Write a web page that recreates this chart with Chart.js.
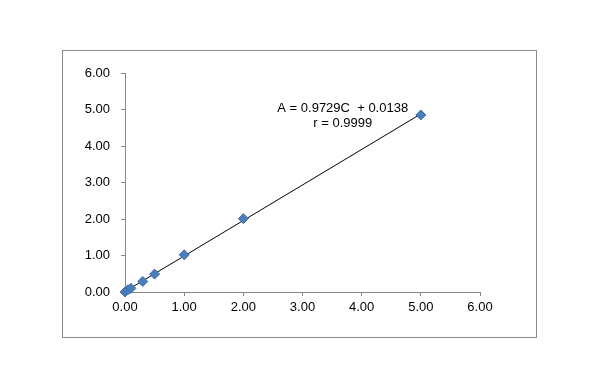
<!DOCTYPE html>
<html>
<head>
<meta charset="utf-8">
<script src="https://cdn.jsdelivr.net/npm/chart.js@4/dist/chart.umd.min.js"></script>
<style>
	html, body { margin: 0; padding: 0; background: #fff; }
	#wrap { position: absolute; left: 0; top: 0; width: 597px; height: 376px; }
</style>
</head>
<body>
<div id="wrap"><canvas id="calib" width="597" height="376"></canvas></div>
<script>
// standard points (C, A)
const concs = [0, 0.05, 0.1, 0.3, 0.5, 1, 2, 5];
const absorb = [0, 0.06, 0.1, 0.29, 0.49, 1.02, 2.01, 4.85];
// fitted line ends
const fitX = [0, 5];
const fitY = [0.0138, 4.8783];
const tickVals = [0, 1, 2, 3, 4, 5, 6];
const eqLines = ['A = 0.9729C  + 0.0138', 'r = 0.9999'];

const axisGray = '#868686';
const fontFam = '"Liberation Sans", Arial, sans-serif';

// outer frame + equation text
const framePlugin = {
	id: 'frame',
	beforeDraw: function(chart){
		const ctx = chart.ctx;
		ctx.save();
		ctx.strokeStyle = '#8a8a8a';
		ctx.lineWidth = 1;
		ctx.strokeRect(62.5, 50.5, 474, 287);
		ctx.restore();
	},
	afterDatasetsDraw: function(chart){
		const ctx = chart.ctx;
		const xs = chart.scales.x, ys = chart.scales.y;
		const cx = xs.getPixelForValue(3.68);
		let cy = ys.getPixelForValue(5.04);
		ctx.save();
		ctx.fillStyle = '#000';
		ctx.font = '13px ' + fontFam;
		ctx.textAlign = 'center';
		ctx.textBaseline = 'middle';
		eqLines.forEach(function(t){
			ctx.fillText(t, cx, cy);
			cy += 15;
		});
		ctx.restore();
	}
};

new Chart(document.getElementById('calib'), {
	type: 'scatter',
	data: {
		datasets: [{
			label: 'fit',
			type: 'line',
			data: fitX.map(function(x, i){ return {x: x, y: fitY[i]}; }),
			borderColor: '#000',
			borderWidth: 1,
			pointRadius: 0,
			fill: false,
			order: 2
		}, {
			label: 'standards',
			data: concs.map(function(c, i){ return {x: c, y: absorb[i]}; }),
			pointStyle: 'rectRot',
			pointRadius: 5,
			backgroundColor: '#4a7ebb',
			borderColor: '#3e6ea6',
			borderWidth: 1,
			clip: false,
			order: 1
		}]
	},
	options: {
		responsive: false,
		animation: false,
		events: [],
		layout: { padding: { left: 80, top: 73, right: 117, bottom: 54 } },
		plugins: { legend: { display: false }, tooltip: { enabled: false } },
		scales: {
			x: {
				type: 'linear', min: 0, max: 6,
				afterFit: function(s){ s.height = 30; },
				afterBuildTicks: function(s){ s.ticks = tickVals.map(function(v){ return {value: v}; }); },
				grid: { drawOnChartArea: false, drawTicks: true, tickLength: 4, color: axisGray },
				border: { color: axisGray, width: 1 },
				ticks: {
					color: '#000', padding: 4,
					font: { family: fontFam, size: 13 },
					callback: function(v){ return v.toFixed(2); }
				}
			},
			y: {
				type: 'linear', min: 0, max: 6,
				afterFit: function(s){ s.width = 45; },
				afterBuildTicks: function(s){ s.ticks = tickVals.map(function(v){ return {value: v}; }); },
				grid: { drawOnChartArea: false, drawTicks: true, tickLength: 4, color: axisGray },
				border: { color: axisGray, width: 1 },
				ticks: {
					color: '#000', padding: 11,
					font: { family: fontFam, size: 13 },
					callback: function(v){ return v.toFixed(2); }
				}
			}
		}
	},
	plugins: [framePlugin]
});
</script>
</body>
</html>
